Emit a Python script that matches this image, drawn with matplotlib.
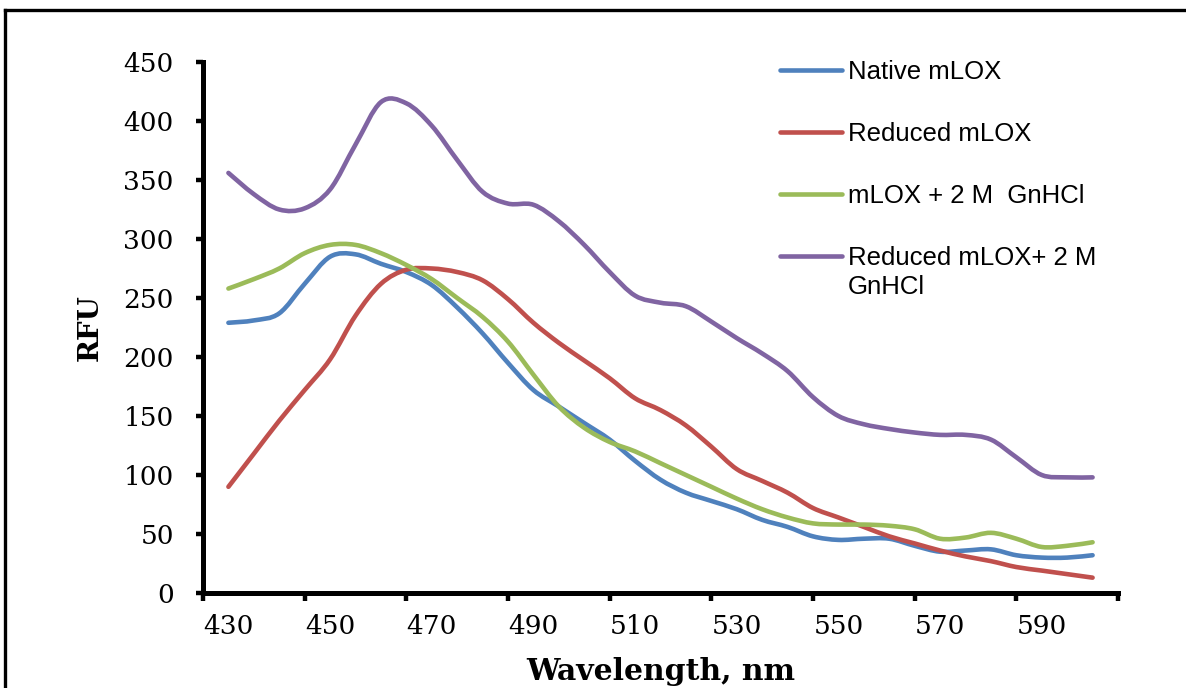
import numpy as np
import matplotlib
matplotlib.use('Agg')
import matplotlib.pyplot as plt
from matplotlib.lines import Line2D
from matplotlib.path import Path
from matplotlib.patches import PathPatch

# wavelength (nm) and fluorescence readings
wavelength = [430, 435, 440, 445, 450, 455, 460, 465, 470, 475, 480, 485,
              490, 495, 500, 505, 510, 515, 520, 525, 530, 535, 540, 545,
              550, 555, 560, 565, 570, 575, 580, 585, 590, 595, 600]

native = [229, 231, 237, 262, 285, 287, 279, 272, 261, 242, 220, 195,
          172, 158, 144, 130, 112, 96, 85, 78, 71, 62, 56, 48,
          45, 46, 46, 40, 35, 36, 37, 32, 30, 30, 32]

reduced = [90, 118, 146, 172, 198, 235, 262, 274, 275, 272, 265, 249,
           229, 212, 197, 182, 165, 155, 142, 124, 105, 95, 85, 72,
           64, 56, 48, 42, 36, 31, 27, 22, 19, 16, 13]

gnhcl = [258, 266, 275, 288, 295, 295, 288, 278, 266, 250, 234, 213,
         185, 158, 140, 128, 120, 110, 100, 90, 80, 71, 64, 59,
         58, 58, 57, 54, 46, 47, 51, 46, 39, 40, 43]

reduced_gnhcl = [356, 338, 325, 326, 342, 380, 416, 415, 396, 367, 340, 330,
                 329, 315, 295, 272, 252, 246, 243, 230, 216, 203, 188, 166,
                 150, 143, 139, 136, 134, 134, 130, 115, 100, 98, 98]

labels = ['Native mLOX', 'Reduced mLOX', 'mLOX + 2 M  GnHCl', 'Reduced mLOX+ 2 M']
colors = ['#4F81BD', '#C0504D', '#9BBB59', '#8064A2']

x_labels = [430, 450, 470, 490, 510, 530, 550, 570, 590]
x_marks = [425, 445, 465, 485, 505, 525, 545, 565, 585, 605]
y_ticks = [0, 50, 100, 150, 200, 250, 300, 350, 400, 450]


def smooth_path(xs, ys):
    # Excel-style smoothed line: cubic Bezier segments through every point
    p = np.column_stack([xs, ys]).astype(float)
    ext = np.vstack([p[0], p, p[-1]])
    verts = [p[0]]
    codes = [Path.MOVETO]
    for i in range(len(p) - 1):
        p0, p1, p2, p3 = ext[i], ext[i + 1], ext[i + 2], ext[i + 3]
        verts += [p1 + (p2 - p0) / 6, p2 - (p3 - p1) / 6, p2]
        codes += [Path.CURVE4] * 3
    return Path(verts, codes)


W, H = 1186, 688
fig = plt.figure(figsize=(W / 100, H / 100), dpi=100)
ax = fig.add_axes([203 / W, 1 - 593 / H, (1118 - 203) / W, (593 - 62) / H])

handles = []
for ys, lab, col in zip([native, reduced, gnhcl, reduced_gnhcl], labels, colors):
    ax.add_patch(PathPatch(smooth_path(wavelength, ys), fill=False, edgecolor=col,
                           lw=3.3, joinstyle='round', capstyle='round'))
    handles.append(Line2D([], [], color=col, lw=3.3, solid_capstyle='round', label=lab))

ax.set_xlim(425, 605)
ax.set_ylim(0, 450)

for s in ['top', 'right']:
    ax.spines[s].set_visible(False)
for s in ['left', 'bottom']:
    ax.spines[s].set_linewidth(3.6)
    ax.spines[s].set_capstyle('projecting')

serif = 'DejaVu Serif'
ax.set_xticks(x_marks)
ax.set_xticklabels([])
ax.set_xticks(x_labels, minor=True)
ax.set_xticklabels([str(v) for v in x_labels], minor=True, fontfamily=serif, fontsize=19)
ax.tick_params(axis='x', which='major', length=6, width=3.2, direction='out')
ax.tick_params(axis='x', which='minor', length=0, pad=15)

ax.set_yticks(y_ticks)
ax.set_yticklabels([str(v) for v in y_ticks], fontfamily=serif, fontsize=19)
ax.tick_params(axis='y', length=5, width=3.2, direction='out', pad=16)

ax.set_xlabel('Wavelength, nm', fontfamily=serif, fontsize=21.5, fontweight='bold')
ax.xaxis.set_label_coords(0.5, (593 - 672) / 531)
ax.xaxis.label.set_verticalalignment('center')
ax.set_ylabel('RFU', fontfamily=serif, fontsize=20, fontweight='bold')
ax.yaxis.set_label_coords((90 - 203) / 915, 0.5)
ax.yaxis.label.set_verticalalignment('center')

leg = ax.legend(handles=handles, loc='upper left', bbox_to_anchor=(780 / W, 1 - 60 / H),
                bbox_transform=fig.transFigure, frameon=False, borderpad=0,
                borderaxespad=0, handlelength=2.4, handletextpad=0.25,
                labelspacing=1.48, prop={'family': 'Liberation Sans', 'size': 18.5})
# second line of the last legend entry, as in the original (handle sits on the first line)
fig.text(848 / W, 1 - 287 / H, 'GnHCl', fontfamily='Liberation Sans', fontsize=18.5,
         va='center', ha='left')

# outer frame (only top and left edges fall inside the picture)
fig.add_artist(Line2D([5 / W, 1], [1 - 10 / H, 1 - 10 / H], transform=fig.transFigure,
                      color='black', lw=2.4))
fig.add_artist(Line2D([5 / W, 5 / W], [0, 1 - 10 / H], transform=fig.transFigure,
                      color='black', lw=2.4))

fig.savefig('out.png', dpi=100)
